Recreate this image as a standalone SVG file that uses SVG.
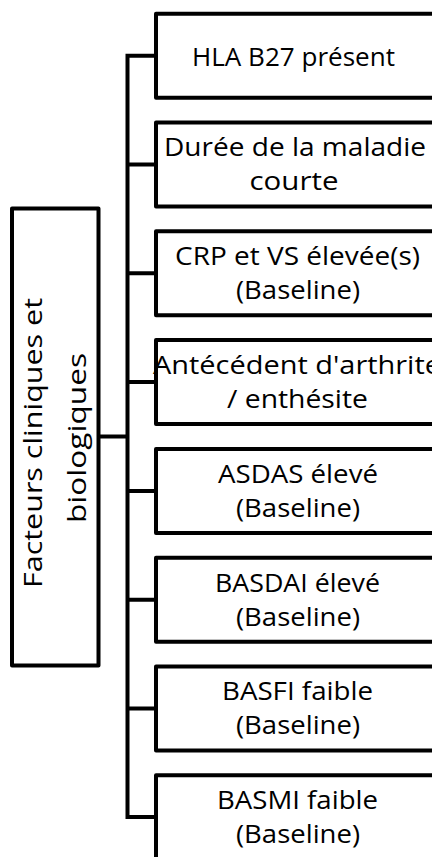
<svg xmlns="http://www.w3.org/2000/svg" width="432" height="857" viewBox="0 0 432 857">
<style>
.box{fill:#fff;stroke:#000;stroke-width:4;stroke-linejoin:round}
.ln{fill:none;stroke:#000;stroke-width:4;stroke-linejoin:miter;stroke-linecap:butt}
.t{font-family:"Open Sans","Liberation Sans",sans-serif;font-size:25px;fill:#000;text-anchor:middle}
.tl{font-family:"Open Sans","Liberation Sans",sans-serif;font-size:25.5px;fill:#000;text-anchor:middle}
</style>
<rect width="432" height="857" fill="#fff"/>
<g id="connectors">
<path class="ln" d="M156,55.7 H127.5 V817.1 H156"/>
<path class="ln" d="M127.5,164.5 H156 M127.5,273.3 H156 M127.5,382.1 H156 M127.5,490.9 H156 M127.5,599.7 H156 M127.5,708.5 H156"/>
<path class="ln" d="M98,436.5 H127.5"/>
</g>
<g id="root">
<rect class="box" x="12" y="208.5" width="86.5" height="457"/>
<text class="tl" transform="translate(42,443) rotate(-90)" textLength="290" lengthAdjust="spacingAndGlyphs">Facteurs cliniques et</text>
<text class="tl" transform="translate(85.5,438) rotate(-90)" textLength="170" lengthAdjust="spacingAndGlyphs">biologiques</text>
</g>
<g id="n1">
<rect class="box" x="156" y="13.7" width="282" height="84"/>
<text class="t" x="293.5" y="66" textLength="203" lengthAdjust="spacingAndGlyphs">HLA B27 présent</text>
</g>
<g id="n2">
<rect class="box" x="156" y="122.5" width="282" height="84"/>
<text class="t" x="295" y="156" textLength="262" lengthAdjust="spacingAndGlyphs">Durée de la maladie</text>
<text class="t" x="294" y="190" textLength="89" lengthAdjust="spacingAndGlyphs">courte</text>
</g>
<g id="n3">
<rect class="box" x="156" y="231.3" width="282" height="84"/>
<text class="t" x="297.5" y="265" textLength="245" lengthAdjust="spacingAndGlyphs">CRP et VS élevée(s)</text>
<text class="t" x="298" y="299" textLength="124" lengthAdjust="spacingAndGlyphs">(Baseline)</text>
</g>
<g id="n4">
<rect class="box" x="156" y="340.1" width="282" height="84"/>
<text class="t" x="297" y="374" textLength="288" lengthAdjust="spacingAndGlyphs">Antécédent d'arthrite</text>
<text class="t" x="297.5" y="408" textLength="141" lengthAdjust="spacingAndGlyphs">/ enthésite</text>
</g>
<g id="n5">
<rect class="box" x="156" y="448.9" width="282" height="84"/>
<text class="t" x="298" y="483" textLength="160" lengthAdjust="spacingAndGlyphs">ASDAS élevé</text>
<text class="t" x="298" y="517" textLength="124" lengthAdjust="spacingAndGlyphs">(Baseline)</text>
</g>
<g id="n6">
<rect class="box" x="156" y="557.7" width="282" height="84"/>
<text class="t" x="297.5" y="591.5" textLength="165" lengthAdjust="spacingAndGlyphs">BASDAI élevé</text>
<text class="t" x="298" y="625.5" textLength="124" lengthAdjust="spacingAndGlyphs">(Baseline)</text>
</g>
<g id="n7">
<rect class="box" x="156" y="666.5" width="282" height="84"/>
<text class="t" x="297.5" y="700" textLength="151" lengthAdjust="spacingAndGlyphs">BASFI faible</text>
<text class="t" x="298" y="734" textLength="124" lengthAdjust="spacingAndGlyphs">(Baseline)</text>
</g>
<g id="n8">
<rect class="box" x="156" y="775.3" width="282" height="84"/>
<text class="t" x="297.5" y="809" textLength="161" lengthAdjust="spacingAndGlyphs">BASMI faible</text>
<text class="t" x="298" y="843" textLength="124" lengthAdjust="spacingAndGlyphs">(Baseline)</text>
</g>
</svg>
